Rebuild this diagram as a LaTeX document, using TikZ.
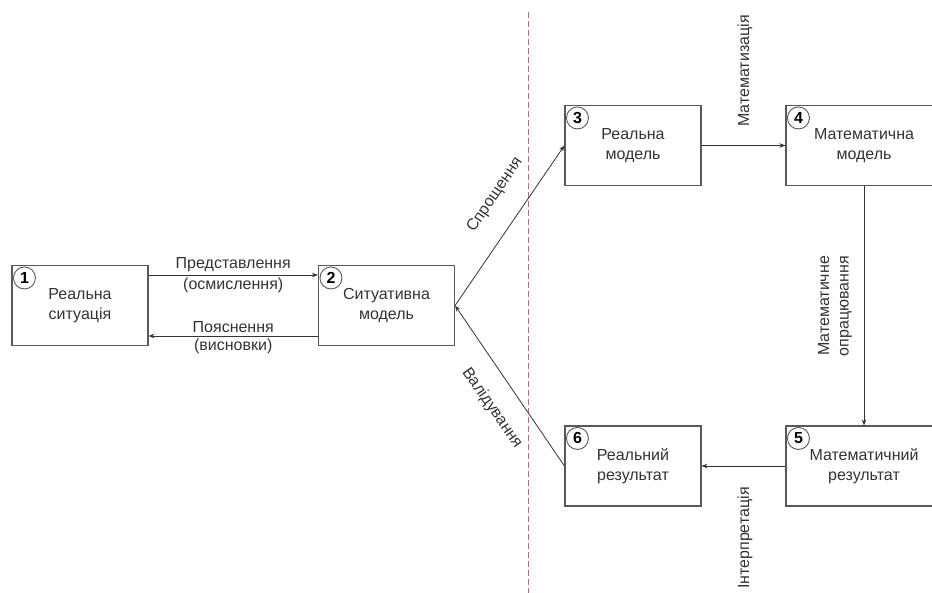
\documentclass[tikz,border=0pt]{standalone}
\usepackage{fontspec}
\setmainfont{Liberation Sans}
\usetikzlibrary{arrows.meta}
\definecolor{boxline}{gray}{0.35}
\definecolor{txt}{gray}{0.2}
\definecolor{divider}{RGB}{200,100,115}
\begin{document}
\begin{tikzpicture}[x=1pt,y=-1pt,
  stagebox/.style={draw=boxline,line width=1.1pt,fill=white,minimum width=136pt,
    minimum height=80pt,inner sep=0pt,text=txt,align=center,
    font=\fontsize{16}{19.5}\selectfont},
  widebox/.style={stagebox,minimum width=156pt},
  badge/.style={circle,draw=boxline,line width=0.9pt,fill=white,minimum size=22pt,
    inner sep=0pt,font=\fontsize{16}{16}\selectfont\bfseries,text=black},
  flow/.style={draw=black!80,line width=0.8pt,-{Stealth[length=6pt,width=4.5pt]}},
  lbl/.style={text=txt,align=center,inner sep=0pt,font=\fontsize{16}{19.5}\selectfont}]
\useasboundingbox (0,0) rectangle (932,593);
\clip (0,0) rectangle (932,593);

% divider between the real-world side and the mathematical side
\draw[divider,line width=0.9pt,dash pattern=on 6pt off 3pt] (528,12) -- (528,593);

% stages of the modelling cycle
\node[stagebox] (b1) at (80,305.5) {Реальна\\ситуація};
\node[stagebox] (b2) at (386.5,305.5) {Ситуативна\\модель};
\node[stagebox] (b3) at (633,145.5) {Реальна\\модель};
\node[widebox]  (b4) at (864,145.5) {Математична\\модель};
\node[widebox]  (b5) at (864,466) {Математичний\\результат};
\node[stagebox] (b6) at (633,466) {Реальний\\результат};

% numbered badges in the top-left corners
\foreach \b/\n in {b1/1,b2/2,b3/3,b4/4,b5/5,b6/6}
  \node[badge] (n\n) at ([xshift=13pt,yshift=-13pt]\b.north west) {\n};

% connectors
\draw[flow] ([yshift=30.5pt]b1.east) -- ([yshift=30.5pt]b2.west)
  coordinate[midway] (m12);
\draw[flow] ([yshift=-30.5pt]b2.west) -- ([yshift=-30.5pt]b1.east)
  coordinate[midway] (m21);
\draw[flow] (b2.east) -- (b3.west);
\draw[flow] (b6.west) -- (b2.east);
\draw[flow] (b3.east) -- (b4.west);
\draw[flow] (b4.south) -- (b5.north);
\draw[flow] (b5.west) -- (b6.east);

% connector labels
\node[lbl,anchor=south] at ([yshift=3pt]m12) {Представлення};
\node[lbl,anchor=north] at ([yshift=-3pt]m12) {(осмислення)};
\node[lbl,anchor=south] at ([yshift=3pt]m21) {Пояснення};
\node[lbl,anchor=north] at ([yshift=-3pt]m21) {(висновки)};
\node[lbl,rotate=56] at (495,195) {Спрощення};
\node[lbl,rotate=-55] at (492,408) {Валідування};
\node[lbl,rotate=90] at (745,71) {Математизація};
\node[lbl,rotate=90] at (835,306) {Математичне\\опрацювання};
\node[lbl,rotate=90] at (745,538) {Інтерпретація};
\end{tikzpicture}
\end{document}
